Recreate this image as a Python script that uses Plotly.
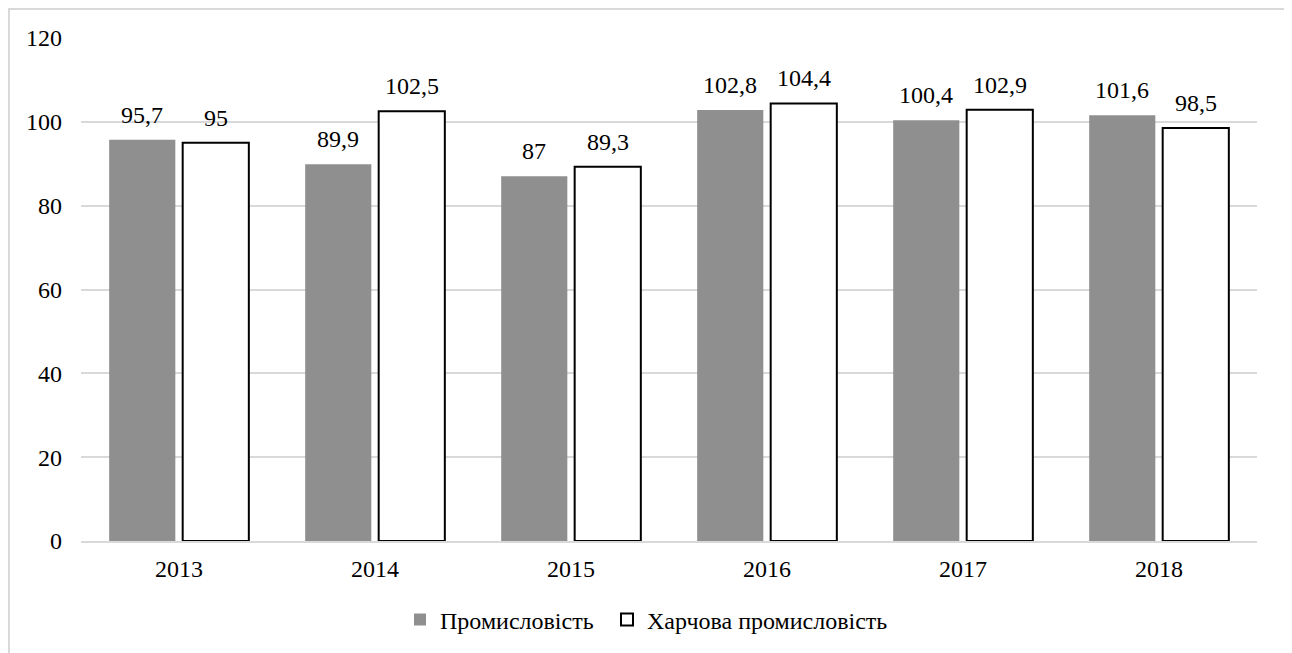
import plotly.graph_objects as go

years = ["2013", "2014", "2015", "2016", "2017", "2018"]
industry = [95.7, 89.9, 87, 102.8, 100.4, 101.6]
food_industry = [95, 102.5, 89.3, 104.4, 102.9, 98.5]
name_industry = "Промисловість"
name_food = "Харчова промисловість"

def fmt(v):
    return ("%g" % v).replace(".", ",")

FONT = "Liberation Serif"
FS = 24
OFF = 8  # page body margin

fig = go.Figure()
fig.add_trace(go.Bar(
    x=years, y=industry, name=name_industry, legend="legend",
    marker=dict(color="#8f8f8f", line=dict(color="#8f8f8f", width=0)),
))
fig.add_trace(go.Bar(
    x=years, y=food_industry, name=name_food, legend="legend2",
    marker=dict(color="#ffffff", line=dict(color="#000000", width=2)),
))

W, H = 1292, 653
L = 81 - OFF
T = 38 - OFF
R = W - (1257 - OFF)
B = H - (541 - OFF)
pw = W - L - R
ph = H - T - B

def px_x(X):
    return (X - OFF - L) / pw

def px_y(Y):
    return (H - B - (Y - OFF)) / ph

annotations = []
for series, shift in ((industry, -37), (food_industry, 37)):
    for i, v in enumerate(series):
        # x given as the category index on the category axis
        annotations.append(dict(x=i, y=v, xref="x", yref="y", text=fmt(v),
                                showarrow=False, yanchor="bottom", xanchor="center",
                                xshift=shift, yshift=10,
                                font=dict(family=FONT, size=FS, color="#000000")))

legend_common = dict(orientation="h", yanchor="middle", xanchor="left",
                     font=dict(family=FONT, size=FS, color="#000000"), itemwidth=30,
                     bgcolor="rgba(0,0,0,0)")

fig.update_layout(
    width=W, height=H,
    margin=dict(l=L, r=R, t=T, b=B),
    paper_bgcolor="#ffffff", plot_bgcolor="#ffffff",
    barmode="group", bargap=0.25, bargroupgap=0.1,
    font=dict(family=FONT, size=FS, color="#000000"),
    showlegend=True,
    legend=dict(legend_common, x=px_x(420 - 20), y=px_y(620)),
    legend2=dict(legend_common, x=px_x(627 - 20), y=px_y(620)),
    xaxis=dict(type="category", showgrid=False, showline=True, linecolor="#d9d9d9", linewidth=2,
               ticks="", tickfont=dict(size=FS), ticklabelstandoff=5),
    yaxis=dict(range=[0, 120], dtick=20, showgrid=True, gridcolor="#d9d9d9", gridwidth=1.5,
               zeroline=False, showline=False, ticks="", tickfont=dict(size=FS),
               ticklabelstandoff=18),
    annotations=annotations,
    shapes=[dict(type="rect", xref="paper", yref="paper",
                 x0=(1 - L) / pw, x1=(1286 - OFF - L) / pw,
                 y0=(H - B - 700) / ph, y1=(H - B - 1) / ph,
                 line=dict(color="#d9d9d9", width=2), fillcolor="rgba(0,0,0,0)", layer="below")],
)

fig.write_html("out.html")
